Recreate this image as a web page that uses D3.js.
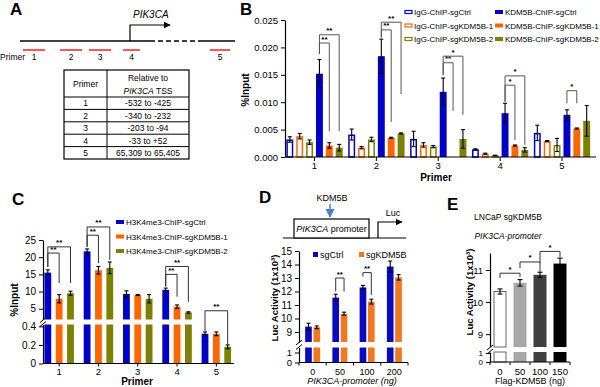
<!DOCTYPE html>
<html><head><meta charset="utf-8">
<script src="https://cdn.jsdelivr.net/npm/d3@7"></script>
<style>
body{margin:0;background:#fff}
svg{font-family:"Liberation Sans",Arial,sans-serif}
</style></head>
<body><svg id="fig" width="600" height="387"></svg>
<script>
// ---------- data ----------
const primers = ["1", "2", "3", "4", "5"];
const tssRanges = ["-532 to -425", "-340 to -232", "-203 to -94", "-33 to +52", "65,309 to 65,405"];
// schematic primer positions in panel A (drawing units, not to scale)
const primerStart = [3, 40, 69, 103, 190];
const primerEnd = [25, 62, 91, 120, 210];

// panel B (%Input)
const bNames = ["IgG-ChIP-sgCtrl", "IgG-ChIP-sgKDM5B-1", "IgG-ChIP-sgKDM5B-2",
  "KDM5B-ChIP-sgCtrl", "KDM5B-ChIP-sgKDM5B-1", "KDM5B-ChIP-sgKDM5B-2"];
const bIgGCtrl = [0.0032, 0.0041, 0.0033, 0.0014, 0.0044];
const bIgGKd1 = [0.0038, 0.0017, 0.0022, 0.0006, 0.0029];
const bIgGKd2 = [0.0027, 0.0032, 0.0019, 0.0003, 0.0022];
const bKdmCtrl = [0.0152, 0.0184, 0.0119, 0.0080, 0.0077];
const bKdmKd1 = [0.0021, 0.0035, null, 0.0021, 0.0052];
const bKdmKd2 = [0.0017, 0.0043, 0.0033, 0.0013, 0.0066];
const bIgGCtrlErr = [0.0005, 0.0010, 0.0014, 0.0001, 0.0014];
const bIgGKd1Err = [0.0005, 0.0002, 0.0004, 0.0001, 0.0001];
const bIgGKd2Err = [0.0004, 0.0004, 0.0002, 0.0000, 0.0012];
const bKdmCtrlErr = [0.0026, 0.0031, 0.0025, 0.0018, 0.0009];
const bKdmKd1Err = [0.0005, 0.0001, 0, 0.0001, 0.0001];
const bKdmKd2Err = [0.0006, 0.0001, 0.0017, 0.0004, 0.0028];
const bTicks = [0, 0.005, 0.010, 0.015, 0.020, 0.025];
// brackets: group, from series, to series, top, left leg end, right leg end, label
const bSig = [
  [0, 3, 4, 0.0208, 0.0188, 0.0047, "**"], [0, 3, 5, 0.0223, 0.0188, 0.0047, "**"],
  [1, 3, 4, 0.0232, 0.0218, 0.0064, "**"], [1, 3, 5, 0.0246, 0.0218, 0.0115, "**"],
  [2, 3, 4, 0.0172, 0.0150, 0.0084, "**"], [2, 3, 5, 0.0184, 0.0150, 0.0077, "*"],
  [3, 3, 4, 0.0131, 0.0101, 0.0031, "*"], [3, 3, 5, 0.0148, 0.0101, 0.0022, "*"],
  [4, 3, 4, 0.0121, 0.0098, 0.0098, "*"]
];

// panel C (%Input, broken axis)
const cNames = ["H3K4me3-ChIP-sgCtrl", "H3K4me3-ChIP-sgKDM5B-1", "H3K4me3-ChIP-sgKDM5B-2"];
const cCtrl = [15.5, 21.7, 9.3, 10.5, 0.32];
const cKd1 = [7.9, 16.2, 9.0, 5.6, 0.32];
const cKd2 = [9.5, 16.9, 7.9, 3.9, 0.18];
const cCtrlErr = [0.8, 0.7, 0.9, 0.5, 0.02];
const cKd1Err = [1.2, 1.1, 0.15, 0.5, 0.02];
const cKd2Err = [0.6, 1.7, 1.2, 0.2, 0.02];
const cUpperTicks = [5, 10, 15, 20, 25];
const cLowerTicks = [0, 0.2, 0.4];
const cSig = [
  [0, 0, 1, 21.2, 17.2, 12.5, "**"], [0, 0, 2, 23.0, 17.2, 12.5, "**"],
  [1, 0, 1, 26.4, 23.0, 18.3, "**"], [1, 0, 2, 28.8, 23.0, 19.2, "**"],
  [3, 0, 1, 15.0, 11.5, 8.5, "**"], [3, 0, 2, 17.3, 11.5, 7.0, "**"],
  [4, 0, 2, 4.4, 0.35, 0.205, "**"]
];

// panel D (Luc activity)
const dDoses = ["0", "50", "100", "200"];
const dNames = ["sgCtrl", "sgKDM5B"];
const dCtrl = [9.4, 11.55, 12.3, 13.85];
const dKd = [9.35, 10.35, 11.25, 13.05];
const dCtrlErr = [0.25, 0.25, 0.15, 0.4];
const dKdErr = [0.1, 0.12, 0.18, 0.2];
const dUpperTicks = [9, 10, 11, 12, 13, 14, 15];
const dLowerTicks = [0, 1];
const dSig = [[1, 0, 1, 13.0, 12.0, 12.0, "**"], [2, 0, 1, 13.4, 13.1, 11.75, "**"]];

// panel E (Luc activity)
const eDoses = ["0", "50", "100", "150"];
const eVals = [10.33, 10.6, 10.85, 11.2];
const eErr = [0.08, 0.1, 0.08, 0.17];
const eFills = ["#ffffff", "#a6a6a6", "#404040", "#000000"];
const eUpperTicks = [9, 10, 11];
const eLowerTicks = [0, 1];
const eSig = [[0, 1, 10.9, 10.75, 10.78, "*"], [1, 2, 11.25, 11.06, 10.94, "*"], [2, 3, 11.58, 11.22, 11.4, "*"]];

// ---------- helpers ----------
const BLUE = "#0000c8", ORANGE = "#ff6600", OLIVE = "#7f7f00";
const svg = d3.select("#fig");

const defs = svg.append("defs");
function marker(id, color) {
  defs.append("marker").attr("id", id).attr("viewBox", "0 0 10 10")
    .attr("refX", 9).attr("refY", 5).attr("markerWidth", 6).attr("markerHeight", 6)
    .attr("orient", "auto")
    .append("path").attr("d", "M0,0L10,5L0,10z").attr("fill", color);
}
marker("arrK", "#000");
marker("arrB", "#4a80c8");

function styleAxis(g, fs) {
  g.selectAll("text").attr("font-size", fs).attr("fill", "#000");
  g.selectAll("path,line").attr("stroke", "#000");
  g.select(".domain").attr("stroke-width", 1.2);
}

function label(x, y, txt, opts = {}) {
  const t = svg.append("text").attr("x", x).attr("y", y)
    .attr("font-size", opts.size || 9)
    .attr("text-anchor", opts.anchor || "start")
    .attr("font-weight", opts.bold ? "bold" : "normal")
    .attr("font-style", opts.italic ? "italic" : "normal")
    .attr("fill", opts.fill || "#000");
  if (opts.rotate) t.attr("transform", `rotate(-90,${x},${y})`);
  t.text(txt);
  return t;
}

function errBar(g, x, y0, y1, cap) {
  g.append("line").attr("x1", x).attr("x2", x).attr("y1", y0).attr("y2", y1)
    .attr("stroke", "#000").attr("stroke-width", 1.1);
  [y0, y1].forEach(y => g.append("line").attr("x1", x - cap).attr("x2", x + cap)
    .attr("y1", y).attr("y2", y).attr("stroke", "#000").attr("stroke-width", 1.1));
}

function bracket(g, x1, x2, yTop, yL, yR, txt, color) {
  g.append("path").attr("d", `M${x1},${yL}V${yTop}H${x2}V${yR}`)
    .attr("fill", "none").attr("stroke", color || "#444").attr("stroke-width", 1);
  g.append("text").attr("x", (x1 + x2) / 2).attr("y", yTop - 1.5)
    .attr("text-anchor", "middle").attr("font-size", 8).attr("font-weight", "bold").text(txt);
}

// broken axis: upper & lower scales
function broken(upper, lower) {
  const lmax = lower.domain()[1];
  return v => (v > lmax ? upper(v) : lower(v));
}
function brokenBar(g, x, w, v, upper, lower, fill, stroke) {
  const lmax = lower.domain()[1];
  const lv = Math.min(v, lmax);
  g.append("rect").attr("x", x).attr("width", w)
    .attr("y", lower(lv)).attr("height", lower(0) - lower(lv))
    .attr("fill", fill).attr("stroke", stroke || "none");
  if (v > lmax) {
    const ub = upper.domain()[0];
    g.append("rect").attr("x", x).attr("width", w)
      .attr("y", upper(v)).attr("height", upper(ub) - upper(v))
      .attr("fill", fill).attr("stroke", stroke || "none");
  }
}
function brokenAxis(g, ax, upper, lower, upTicks, loTicks, fmt, fs, fsLow) {
  const a1 = g.append("g").attr("transform", `translate(${ax},0)`)
    .call(d3.axisLeft(upper).tickValues(upTicks).tickSize(4).tickSizeOuter(0).tickFormat(fmt));
  styleAxis(a1, fs);
  const a2 = g.append("g").attr("transform", `translate(${ax},0)`)
    .call(d3.axisLeft(lower).tickValues(loTicks).tickSize(4).tickSizeOuter(0).tickFormat(fmt));
  styleAxis(a2, fsLow || fs);
  const yb = upper.range()[0], yt = lower.range()[1];
  [yb + 0.5, yt - 0.5].forEach(y => g.append("line")
    .attr("x1", ax - 3).attr("x2", ax + 3).attr("y1", y + 2.5).attr("y2", y - 2.5)
    .attr("stroke", "#000").attr("stroke-width", 1));
}

// ---------- panel A ----------
const gA = svg.append("g");
label(10, 15, "A", { size: 17, bold: true });
const xA = d3.scaleLinear().domain([0, 215]).range([20, 235]);
gA.append("line").attr("x1", xA(0)).attr("x2", xA(130)).attr("y1", 41).attr("y2", 41)
  .attr("stroke", "#000").attr("stroke-width", 1.5);
gA.append("line").attr("x1", xA(130)).attr("x2", xA(176)).attr("y1", 41).attr("y2", 41)
  .attr("stroke", "#000").attr("stroke-width", 1.5).attr("stroke-dasharray", "5,3");
gA.append("line").attr("x1", xA(178)).attr("x2", xA(215)).attr("y1", 41).attr("y2", 41)
  .attr("stroke", "#000").attr("stroke-width", 1.5);
gA.append("path").attr("d", `M${xA(110)},41V25H${xA(150)}`).attr("fill", "none")
  .attr("stroke", "#000").attr("stroke-width", 1.2).attr("marker-end", "url(#arrK)");
label(xA(113), 18, "PIK3CA", { size: 10, italic: true });
primers.forEach((p, i) => {
  gA.append("line").attr("x1", xA(primerStart[i])).attr("x2", xA(primerEnd[i]))
    .attr("y1", 50).attr("y2", 50).attr("stroke", "#ee2222").attr("stroke-width", 1.5);
  label((xA(primerStart[i]) + xA(primerEnd[i])) / 2, 60, p, { size: 8.5, anchor: "middle" });
});
label(0, 60, "Primer", { size: 8.5 });

// table
const tL = 64, tM = 107, tR = 189, tTop = 70, tHead = 97, rowH = 12.4;
const tBot = tHead + rowH * primers.length;
gA.append("rect").attr("x", tL).attr("y", tTop).attr("width", tR - tL).attr("height", tBot - tTop)
  .attr("fill", "none").attr("stroke", "#000").attr("stroke-width", 1.2);
gA.append("line").attr("x1", tM).attr("x2", tM).attr("y1", tTop).attr("y2", tBot)
  .attr("stroke", "#000").attr("stroke-width", 1);
label((tL + tM) / 2, 87, "Primer", { size: 8.5, anchor: "middle" });
label((tM + tR) / 2, 81, "Relative to", { size: 8.5, anchor: "middle" });
const hdr = label((tM + tR) / 2, 94, "", { size: 8.5, anchor: "middle" });
hdr.append("tspan").attr("font-style", "italic").text("PIK3CA");
hdr.append("tspan").text(" TSS");
primers.forEach((p, i) => {
  const y = tHead + rowH * i;
  gA.append("line").attr("x1", tL).attr("x2", tR).attr("y1", y).attr("y2", y)
    .attr("stroke", "#000").attr("stroke-width", 1);
  label((tL + tM) / 2, y + 9.3, p, { size: 8.5, anchor: "middle" });
  label((tM + tR) / 2, y + 9.3, tssRanges[i], { size: 8.5, anchor: "middle" });
});

// ---------- panel B ----------
const gB = svg.append("g");
label(240, 15, "B", { size: 17, bold: true });
const yB = d3.scaleLinear().domain([0, 0.025]).range([157, 20]);
const xB = d3.scaleBand().domain(primers).range([284.5, 592]).paddingInner(0.09).paddingOuter(0.03);
const xBi = d3.scaleBand().domain(d3.range(6)).range([0, xB.bandwidth()]).paddingInner(0.3);
const bMeans = [bIgGCtrl, bIgGKd1, bIgGKd2, bKdmCtrl, bKdmKd1, bKdmKd2];
const bErrs = [bIgGCtrlErr, bIgGKd1Err, bIgGKd2Err, bKdmCtrlErr, bKdmKd1Err, bKdmKd2Err];
const bCols = [BLUE, ORANGE, OLIVE, BLUE, ORANGE, OLIVE];
bMeans.forEach((ser, s) => {
  ser.forEach((v, i) => {
    if (v === null) return;
    const x = xB(primers[i]) + xBi(s), w = xBi.bandwidth();
    const hollow = s < 3;
    gB.append("rect")
      .attr("x", hollow ? x + 0.75 : x).attr("width", hollow ? w - 1.5 : w)
      .attr("y", yB(v) + (hollow ? 0.75 : 0))
      .attr("height", Math.max(0, yB(0) - yB(v) - (hollow ? 0.75 : 0)))
      .attr("fill", hollow ? "#fff" : bCols[s])
      .attr("stroke", hollow ? bCols[s] : "none").attr("stroke-width", 1.5);
    errBar(gB, x + w / 2, yB(v - bErrs[s][i]), yB(v + bErrs[s][i]), 2);
  });
});
const bx = (g, s) => xB(primers[g]) + xBi(s) + xBi.bandwidth() / 2;
bSig.forEach(([g, a, b, top, l, r, t]) => bracket(gB, bx(g, a), bx(g, b), yB(top), yB(l), yB(r), t, "#555"));
const ayB = gB.append("g").attr("transform", "translate(285,0)")
  .call(d3.axisLeft(yB).tickValues(bTicks).tickSize(4).tickSizeOuter(0).tickFormat(d3.format(".3f")));
styleAxis(ayB, 9.5);
const axB = gB.append("g").attr("transform", "translate(0,157)")
  .call(d3.axisBottom(xB).tickSize(4).tickPadding(1.5).tickSizeOuter(0));
styleAxis(axB, 9.5);
axB.select(".domain").attr("d", "M285,0H596");
label(249, 90, "%Input", { size: 10, bold: true, anchor: "middle", rotate: true });
label(436, 181, "Primer", { size: 10, bold: true, anchor: "middle" });
// legend
bNames.forEach((n, s) => {
  const col = Math.floor(s / 3), row = s % 3;
  const lx = col ? 495 : 405, ly = 12 + row * 13.5;
  if (s < 3) gB.append("rect").attr("x", lx).attr("y", ly - 1.5).attr("width", 7).attr("height", 3)
    .attr("fill", "#fff").attr("stroke", bCols[s]).attr("stroke-width", 1.2);
  else gB.append("rect").attr("x", lx).attr("y", ly - 2).attr("width", 8).attr("height", 4).attr("fill", bCols[s]);
  label(lx + (col ? 10 : 9), ly + 3, n, { size: 8 });
});

// ---------- panel C ----------
const gC = svg.append("g");
label(12, 205, "C", { size: 17, bold: true });
const yCu = d3.scaleLinear().domain([1.86, 25]).range([319.5, 240]);
const yCl = d3.scaleLinear().domain([0, 0.42]).range([363.5, 324.5]);
const yC = broken(yCu, yCl);
const xC = d3.scaleBand().domain(primers).range([39.5, 236]).paddingInner(0.25).paddingOuter(0.125);
const xCi = d3.scaleBand().domain(d3.range(3)).range([0, xC.bandwidth()]).paddingInner(0.4);
const cMeans = [cCtrl, cKd1, cKd2], cErrs = [cCtrlErr, cKd1Err, cKd2Err], cCols = [BLUE, ORANGE, OLIVE];
cMeans.forEach((ser, s) => ser.forEach((v, i) => {
  const x = xC(primers[i]) + xCi(s), w = xCi.bandwidth();
  brokenBar(gC, x, w, v, yCu, yCl, cCols[s]);
  errBar(gC, x + w / 2, yC(v - cErrs[s][i]), yC(v + cErrs[s][i]), 2);
}));
const cx = (g, s) => xC(primers[g]) + xCi(s) + xCi.bandwidth() / 2;
cSig.forEach(([g, a, b, top, l, r, t]) => bracket(gC, cx(g, a), cx(g, b), yC(top), yC(l), yC(r), t, "#333"));
brokenAxis(gC, 43, yCu, yCl, cUpperTicks, cLowerTicks, d => d < 1 && d > 0 ? d3.format(".1f")(d) : d, 10);
const axC = gC.append("g").attr("transform", "translate(0,363.5)")
  .call(d3.axisBottom(xC).tickSize(3).tickPadding(1.5).tickSizeOuter(0));
styleAxis(axC, 9.5);
axC.select(".domain").attr("d", "M43,0H234");
label(18, 300, "%Input", { size: 10, bold: true, anchor: "middle", rotate: true });
label(137, 385, "Primer", { size: 10, bold: true, anchor: "middle" });
cNames.forEach((n, s) => {
  const ly = 222 + s * 14.5;
  gC.append("rect").attr("x", 116).attr("y", ly - 2).attr("width", 8).attr("height", 4).attr("fill", cCols[s]);
  label(126, ly + 3, n, { size: 8 });
});

// ---------- panel D ----------
const gD = svg.append("g");
label(259, 203, "D", { size: 17, bold: true });
label(332, 201, "KDM5B", { size: 9, anchor: "middle" });
gD.append("line").attr("x1", 330).attr("x2", 330).attr("y1", 204).attr("y2", 217)
  .attr("stroke", "#4a80c8").attr("stroke-width", 1.5).attr("marker-end", "url(#arrB)");
gD.append("line").attr("x1", 283).attr("x2", 406).attr("y1", 238).attr("y2", 238).attr("stroke", "#000").attr("stroke-width", 1.2);
gD.append("rect").attr("x", 294).attr("y", 219).attr("width", 75).attr("height", 19)
  .attr("fill", "#fff").attr("stroke", "#000").attr("stroke-width", 1.2);
const pt = label(331.5, 232, "", { size: 9, anchor: "middle" });
pt.append("tspan").attr("font-style", "italic").text("PIK3CA");
pt.append("tspan").text(" promoter");
gD.append("path").attr("d", "M378,238V222H402").attr("fill", "none").attr("stroke", "#000")
  .attr("stroke-width", 1.2).attr("marker-end", "url(#arrK)");
label(393, 216, "Luc", { size: 9, anchor: "middle" });

const yDu = d3.scaleLinear().domain([8.26, 15]).range([342, 251]);
const yDl = d3.scaleLinear().domain([0, 1.5]).range([362.5, 347.5]);
const yD = broken(yDu, yDl);
const xD = d3.scaleBand().domain(dDoses).range([299, 408]).paddingInner(0.45).paddingOuter(0.225);
const xDi = d3.scaleBand().domain([0, 1]).range([0, xD.bandwidth()]).paddingInner(0.2);
const dMeans = [dCtrl, dKd], dErrs = [dCtrlErr, dKdErr], dCols = ["#0a0ac0", "#f07820"];
dMeans.forEach((ser, s) => ser.forEach((v, i) => {
  const x = xD(dDoses[i]) + xDi(s), w = xDi.bandwidth();
  brokenBar(gD, x, w, v, yDu, yDl, dCols[s]);
  errBar(gD, x + w / 2, yD(v - dErrs[s][i]), yD(v + dErrs[s][i]), 2);
}));
const dx = (g, s) => xD(dDoses[g]) + xDi(s) + xDi.bandwidth() / 2;
dSig.forEach(([g, a, b, top, l, r, t]) => bracket(gD, dx(g, a), dx(g, b), yD(top), yD(l), yD(r), t, "#333"));
brokenAxis(gD, 299, yDu, yDl, dUpperTicks, dLowerTicks, d => d, 10, 9.5);
const axD = gD.append("g").attr("transform", "translate(0,362.5)")
  .call(d3.axisBottom(xD).tickSize(0).tickPadding(6).tickSizeOuter(0));
styleAxis(axD, 9);
axD.select(".domain").attr("d", "M299,0H408");
d3.range(5).forEach(k => gD.append("line").attr("x1", 299 + k * xD.step()).attr("x2", 299 + k * xD.step())
  .attr("y1", 362.5).attr("y2", 365.5).attr("stroke", "#000"));
label(278, 298, "Luc Activity (1x10³)", { size: 9.5, bold: true, anchor: "middle", rotate: true });
label(352, 384, "PIK3CA-promoter (ng)", { size: 9, anchor: "middle", italic: true });
dNames.forEach((n, s) => {
  const lx = s ? 359 : 313;
  gD.append("rect").attr("x", lx).attr("y", 252).attr("width", 5).attr("height", 5).attr("fill", dCols[s]);
  label(lx + 7, 258, n, { size: 9 });
});

// ---------- panel E ----------
const gE = svg.append("g");
label(447, 210, "E", { size: 17, bold: true });
label(508, 220, "LNCaP sgKDM5B", { size: 8.5, anchor: "middle" });
label(508, 239, "PIK3CA-promoter", { size: 8.5, anchor: "middle", italic: true });
const yEu = d3.scaleLinear().domain([8.6, 11.53]).range([347, 253]);
const yEl = d3.scaleLinear().domain([0, 1.1]).range([362, 352]);
const yE = broken(yEu, yEl);
const xE = d3.scaleBand().domain(eDoses).range([490, 570]).paddingInner(0.35).paddingOuter(0.175);
eVals.forEach((v, i) => {
  const x = xE(eDoses[i]), w = xE.bandwidth();
  brokenBar(gE, i ? x : x + 0.5, i ? w : w - 1, v, yEu, yEl, eFills[i], i ? null : "#666");
  errBar(gE, x + w / 2, yE(v - eErr[i]), yE(v + eErr[i]), 2.5);
});
const ex = g => xE(eDoses[g]) + xE.bandwidth() / 2;
eSig.forEach(([a, b, top, l, r, t]) => bracket(gE, ex(a), ex(b), yE(top), yE(l), yE(r), t, "#333"));
brokenAxis(gE, 490, yEu, yEl, eUpperTicks, eLowerTicks, d => d, 9.5, 8);
const axE = gE.append("g").attr("transform", "translate(0,362)")
  .call(d3.axisBottom(xE).tickSize(0).tickPadding(6).tickSizeOuter(0));
styleAxis(axE, 9.5);
axE.select(".domain").attr("d", "M490,0H570");
d3.range(5).forEach(k => gE.append("line").attr("x1", 490 + k * xE.step()).attr("x2", 490 + k * xE.step())
  .attr("y1", 362).attr("y2", 365).attr("stroke", "#000"));
label(473, 292, "Luc Activity (1x10³)", { size: 9.5, bold: true, anchor: "middle", rotate: true });
label(530, 384, "Flag-KDM5B (ng)", { size: 9, anchor: "middle" });
</script>
</body></html>
